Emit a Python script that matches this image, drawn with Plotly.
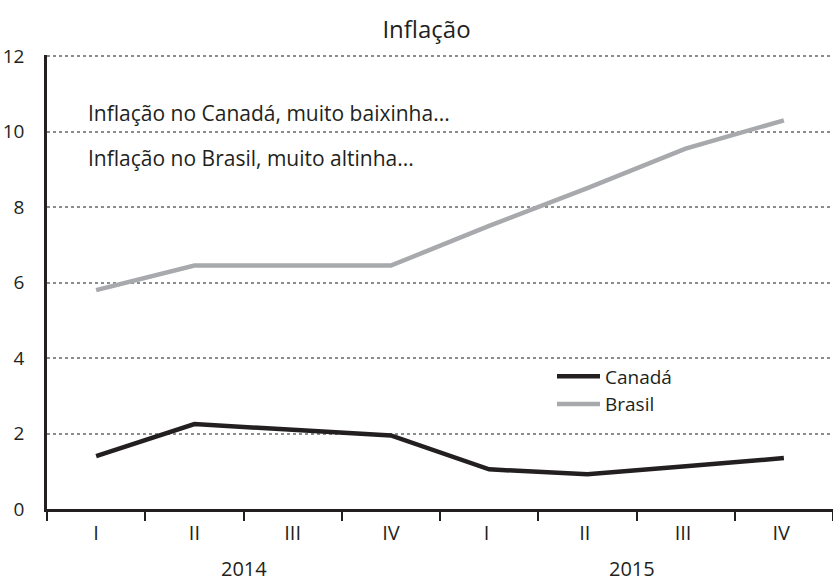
import plotly.graph_objects as go

quarters = ["I", "II", "III", "IV", "I ", "II ", "III ", "IV "]
years = ["2014", "2015"]
canada = [1.4, 2.25, 2.1, 1.95, 1.05, 0.92, 1.13, 1.35]
brasil = [5.8, 6.45, 6.45, 6.45, 7.5, 8.5, 9.55, 10.3]
y_ticks = [0, 2, 4, 6, 8, 10, 12]
notes = ["Inflação no Canadá, muito baixinha...", "Inflação no Brasil, muito altinha..."]

FONT = "Open Sans"
INK = "#231f20"
fig = go.Figure()
fig.add_trace(go.Scatter(x=quarters, y=canada, mode="lines", name="Canadá",
                         line=dict(color=INK, width=4.5)))
fig.add_trace(go.Scatter(x=quarters, y=brasil, mode="lines", name="Brasil",
                         line=dict(color="#a7a9ac", width=4.5)))

fig.update_layout(
    width=833, height=582,
    margin=dict(l=47, r=0, t=55, b=73, autoexpand=False),
    paper_bgcolor="white", plot_bgcolor="white",
    font=dict(family=FONT, size=20, color=INK),
    title=dict(text="Inflação", x=0.512, xanchor="center", y=0.949, yanchor="middle",
               font=dict(size=24, color=INK, family=FONT)),
    showlegend=True,
    legend=dict(x=0.6425, y=0.334, xanchor="left", yanchor="top", bgcolor="rgba(0,0,0,0)",
                font=dict(size=19, family=FONT, color=INK), tracegroupgap=0,
                itemwidth=43),
)
fig.update_xaxes(type="category", tickson="boundaries", ticks="outside", ticklen=9,
                 tickwidth=1.5, tickcolor=INK, showline=True, linecolor=INK,
                 linewidth=2.5, showgrid=False, range=[-0.5, 7.5], automargin=False,
                 tickfont=dict(size=20, family=FONT, color=INK), ticklabelstandoff=4)
fig.update_yaxes(range=[0, 12.03], tickvals=y_ticks, showline=True, linecolor=INK,
                 linewidth=2.5, showgrid=True, gridcolor="#8a8c8e", griddash="dot",
                 gridwidth=1.5, zeroline=False, ticks="", ticklabelstandoff=16,
                 automargin=False, tickfont=dict(size=19, family=FONT, color=INK))

year_pos = [1.5, 5.45]
for yr, xp in zip(years, year_pos):
    fig.add_annotation(x=xp, y=-0.131, xref="x", yref="paper", text=yr,
                       showarrow=False, font=dict(size=20, family=FONT, color=INK),
                       yanchor="middle", borderpad=0)

note_y = [0.872, 0.773]
for t, yp in zip(notes, note_y):
    fig.add_annotation(x=0.0495, y=yp, xref="paper", yref="paper", text=t,
                       showarrow=False, xanchor="left", yanchor="middle",
                       font=dict(size=21, family=FONT, color=INK))

# remove the default 8px page margin so the figure fills the window exactly
fig.write_html("out.html", config={"displayModeBar": False},
               post_script="document.body.style.margin='0';")
